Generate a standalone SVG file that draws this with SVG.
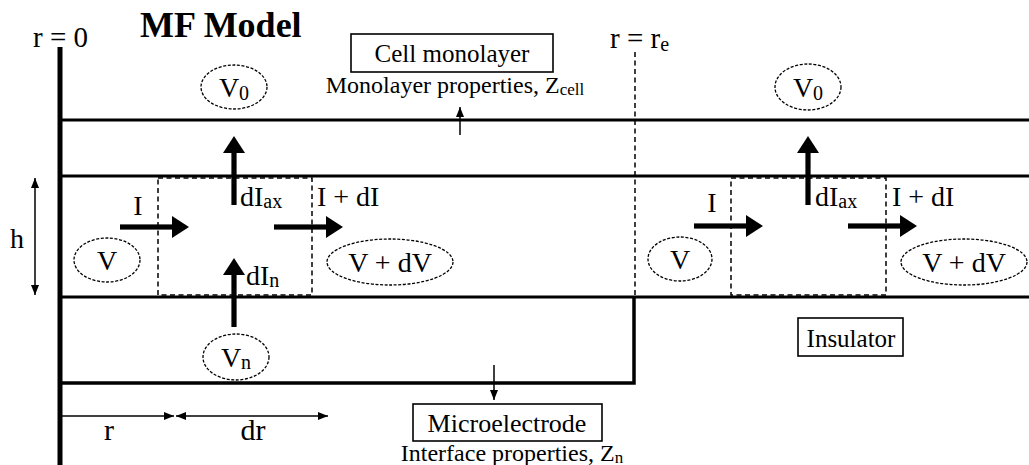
<svg xmlns="http://www.w3.org/2000/svg" xmlns:xlink="http://www.w3.org/1999/xlink" width="1029" height="465" viewBox="0 0 1029 465">
<style>
text{font-family:"Liberation Serif","Times New Roman",serif;fill:#000;}
.lbl{font-size:28px;}
.sub{font-size:20px;}
.box{fill:#fff;stroke:#000;stroke-width:1.6;}
.ell{fill:none;stroke:#000;stroke-width:1.3;stroke-dasharray:3 1.6;}
.wall{stroke:#000;stroke-width:3;fill:none;}
.dash{stroke:#000;stroke-width:1.5;fill:none;stroke-dasharray:5 3.5;}
.thin{stroke:#000;stroke-width:1.5;fill:none;}
</style>
<defs>
<marker id="tri" markerUnits="userSpaceOnUse" viewBox="0 0 10 8" markerWidth="10" markerHeight="8" refX="10" refY="4" orient="auto-start-reverse">
<path d="M0,0 L10,4 L0,8 z" fill="#000"/>
</marker>
<g id="bigArrow">
<rect x="0" y="-2.6" width="54" height="5.2" fill="#000"/>
<polygon points="52,-11 69,0 52,11" fill="#000"/>
</g>
</defs>
<rect width="1029" height="465" fill="#fff"/>

<g id="connectors">
<line class="wall" x1="60" y1="47" x2="60" y2="465" style="stroke-width:5"/>
<line class="wall" x1="58" y1="120" x2="1029" y2="120"/>
<line class="wall" x1="58" y1="176" x2="1029" y2="176"/>
<line class="wall" x1="58" y1="297" x2="1029" y2="297"/>
<polyline class="wall" points="58,383 634,383 634,297" style="stroke-width:3.5"/>
<line class="dash" x1="635" y1="52" x2="635" y2="297"/>
<rect class="dash" x="158" y="178" width="154" height="117"/>
<rect class="dash" x="731" y="178" width="155" height="117"/>
<use xlink:href="#bigArrow" transform="translate(120,227)"/>
<use xlink:href="#bigArrow" transform="translate(274,227)"/>
<use xlink:href="#bigArrow" transform="translate(694,226)"/>
<use xlink:href="#bigArrow" transform="translate(848,226)"/>
<use xlink:href="#bigArrow" transform="translate(234,205) rotate(-90)"/>
<use xlink:href="#bigArrow" transform="translate(808,205) rotate(-90)"/>
<use xlink:href="#bigArrow" transform="translate(234,327) rotate(-90)"/>
<line class="thin" x1="460" y1="135" x2="460" y2="107" marker-end="url(#tri)"/>
<line class="thin" x1="494" y1="365" x2="494" y2="400" marker-end="url(#tri)"/>
<line class="thin" x1="35" y1="178" x2="35" y2="295" marker-start="url(#tri)" marker-end="url(#tri)"/>
<line class="thin" x1="62" y1="416" x2="174" y2="416" marker-end="url(#tri)"/>
<line class="thin" x1="176" y1="416" x2="328" y2="416" marker-start="url(#tri)" marker-end="url(#tri)"/>
</g>

<g id="title"><text x="140" y="37" style="font-size:36px;font-weight:bold">MF Model</text></g>
<g id="label-r0"><text x="33" y="47" style="font-size:29px">r = 0</text></g>
<g id="label-re"><text x="610" y="48" style="font-size:29px">r = r<tspan style="font-size:20px" dy="3">e</tspan></text></g>

<g id="node-cell">
<rect class="box" x="351" y="34" width="202" height="38"/>
<text x="452" y="62" text-anchor="middle" style="font-size:25px">Cell monolayer</text>
<text x="455" y="93" text-anchor="middle" style="font-size:24px">Monolayer properties, Z<tspan style="font-size:17px" dy="2">cell</tspan></text>
</g>
<g id="node-electrode">
<rect class="box" x="413" y="404" width="189" height="37"/>
<text x="507" y="432" text-anchor="middle" style="font-size:26px">Microelectrode</text>
<text x="512" y="461" text-anchor="middle" style="font-size:24px">Interface properties, Z<tspan style="font-size:17px" dy="2">n</tspan></text>
</g>
<g id="node-insulator">
<rect class="box" x="798" y="318" width="105" height="38"/>
<text x="851" y="347" text-anchor="middle" style="font-size:25px">Insulator</text>
</g>

<g id="node-V0-left"><ellipse class="ell" cx="234" cy="87" rx="33" ry="22"/><text class="lbl" x="234" y="97" text-anchor="middle">V<tspan class="sub" dy="3">0</tspan></text></g>
<g id="node-V0-right"><ellipse class="ell" cx="808" cy="87" rx="33" ry="23"/><text class="lbl" x="808" y="97" text-anchor="middle">V<tspan class="sub" dy="3">0</tspan></text></g>
<g id="node-V-left"><ellipse class="ell" cx="107" cy="260" rx="33" ry="22"/><text class="lbl" x="107" y="270" text-anchor="middle">V</text></g>
<g id="node-V-right"><ellipse class="ell" cx="680" cy="259" rx="32" ry="22"/><text class="lbl" x="680" y="269" text-anchor="middle">V</text></g>
<g id="node-VdV-left"><ellipse class="ell" cx="390" cy="262" rx="63" ry="23"/><text class="lbl" x="390" y="272" text-anchor="middle">V + dV</text></g>
<g id="node-VdV-right"><ellipse class="ell" cx="964" cy="262" rx="63" ry="23"/><text class="lbl" x="964" y="272" text-anchor="middle">V + dV</text></g>
<g id="node-Vn"><ellipse class="ell" cx="236" cy="357" rx="33" ry="23"/><text class="lbl" x="236" y="367" text-anchor="middle">V<tspan class="sub" dy="2">n</tspan></text></g>

<g id="labels">
<text class="lbl" x="138" y="215" text-anchor="middle">I</text>
<text class="lbl" x="712" y="212" text-anchor="middle">I</text>
<text class="lbl" x="240" y="206">dI<tspan class="sub" dy="2">ax</tspan></text>
<text class="lbl" x="815" y="206">dI<tspan class="sub" dy="2">ax</tspan></text>
<text class="lbl" x="317" y="206">I + dI</text>
<text class="lbl" x="892" y="206">I + dI</text>
<text class="lbl" x="246" y="285">dI<tspan class="sub" dy="2">n</tspan></text>
<text class="lbl" x="10" y="248">h</text>
<text x="109" y="440" text-anchor="middle" style="font-size:30px">r</text>
<text x="253" y="440" text-anchor="middle" style="font-size:30px">dr</text>
</g>
</svg>
